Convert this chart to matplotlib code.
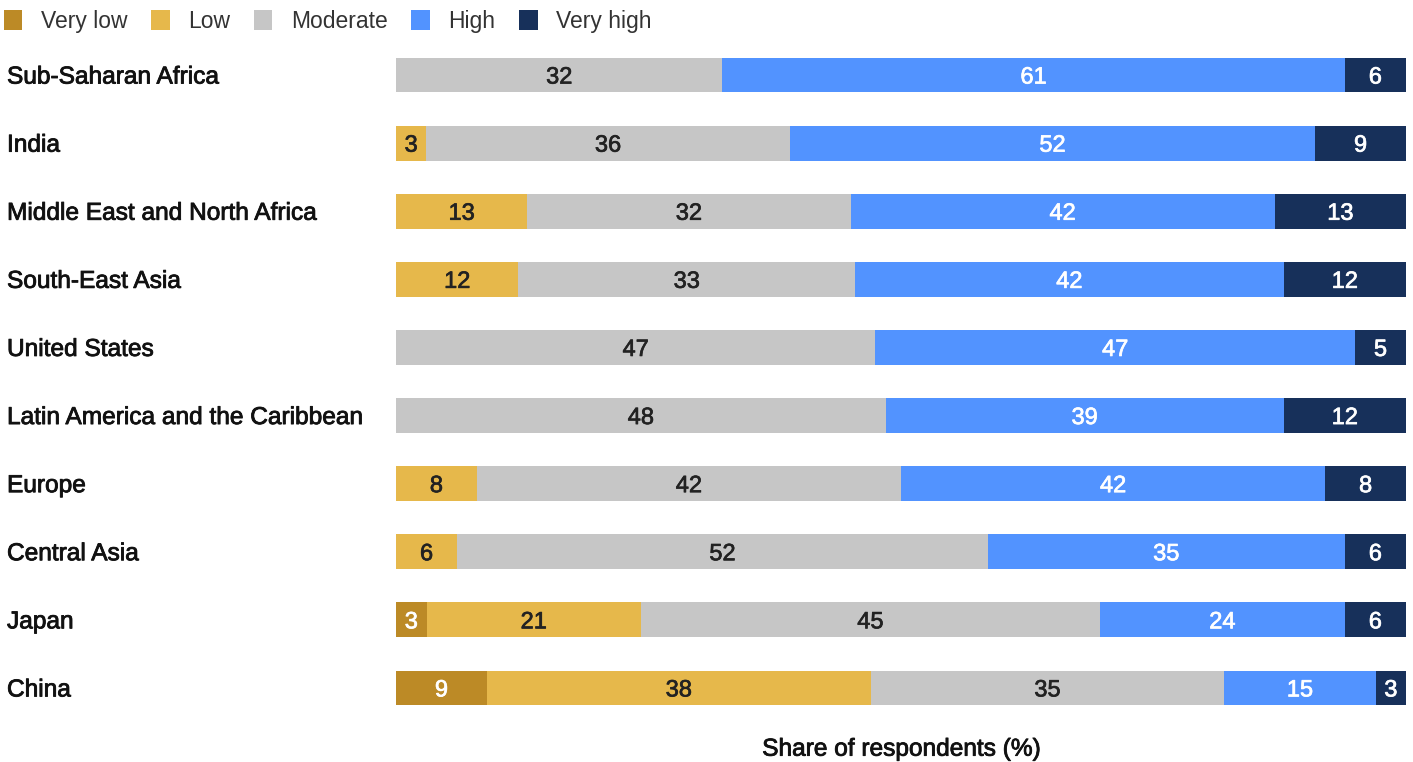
import numpy as np
import matplotlib.pyplot as plt
import matplotlib.patheffects as pe
from matplotlib.patches import Patch
from matplotlib.transforms import blended_transform_factory

plt.rcParams['font.family'] = ['Liberation Sans', 'DejaVu Sans']

regions = ['Sub-Saharan Africa', 'India', 'Middle East and North Africa', 'South-East Asia',
           'United States', 'Latin America and the Caribbean', 'Europe', 'Central Asia',
           'Japan', 'China']
levels = ['Very low', 'Low', 'Moderate', 'High', 'Very high']

very_low = [0, 0, 0, 0, 0, 0, 0, 0, 3, 9]
low = [0, 3, 13, 12, 0, 0, 8, 6, 21, 38]
moderate = [32, 36, 32, 33, 47, 48, 42, 52, 45, 35]
high = [61, 52, 42, 42, 47, 39, 42, 35, 24, 15]
very_high = [6, 9, 13, 12, 5, 12, 8, 6, 6, 3]

colors = ['#BC8A26', '#E6B84B', '#C6C6C6', '#5293FF', '#17305A']
text_colors = ['white', '#222222', '#222222', 'white', 'white']

data = np.array([very_low, low, moderate, high, very_high], dtype=float)
# rounded values don't always add up to 100, bars are stretched to full width
shares = data / data.sum(axis=0) * 100

fig = plt.figure(figsize=(14.13, 7.62), dpi=100)
ax = fig.add_axes([396 / 1413, 1 - 722 / 762, 1010 / 1413, 681 / 762])

y = np.arange(len(regions))
left = np.zeros(len(regions))
for i in range(len(levels)):
    ax.barh(y, shares[i], left=left, height=0.51, color=colors[i], linewidth=0)
    for j in range(len(regions)):
        if data[i, j] > 0:
            ax.text(left[j] + shares[i, j] / 2, y[j], '%d' % data[i, j], ha='center',
                    va='center_baseline', fontsize=17, color=text_colors[i],
                    path_effects=[pe.withStroke(linewidth=0.5, foreground=text_colors[i])])
    left += shares[i]

ax.set_xlim(0, 100)
ax.set_ylim(len(regions) - 0.5, -0.5)
ax.set_xticks([])
ax.set_yticks([])
for s in ax.spines.values():
    s.set_visible(False)

trans = blended_transform_factory(fig.transFigure, ax.transData)
for j, r in enumerate(regions):
    ax.text(7 / 1413, y[j], r, transform=trans, ha='left', va='center_baseline',
            fontsize=17.6, color='#111111',
            path_effects=[pe.withStroke(linewidth=0.6, foreground='#111111')])

ax.set_xlabel('Share of respondents (%)', fontsize=17.6, color='#111111', labelpad=12,
              path_effects=[pe.withStroke(linewidth=0.6, foreground='#111111')])

handles = [Patch(facecolor=c, edgecolor='none') for c in colors]
fig.legend(handles, levels, loc='upper left', bbox_to_anchor=(-0.002, 0.996), ncol=5, frameon=False,
           fontsize=16.5, handlelength=0.8, handleheight=1.0, handletextpad=0.8, columnspacing=1.05,
           borderpad=0.15, borderaxespad=0.15, labelcolor='#333333')

fig.savefig('out.png', dpi=100)
